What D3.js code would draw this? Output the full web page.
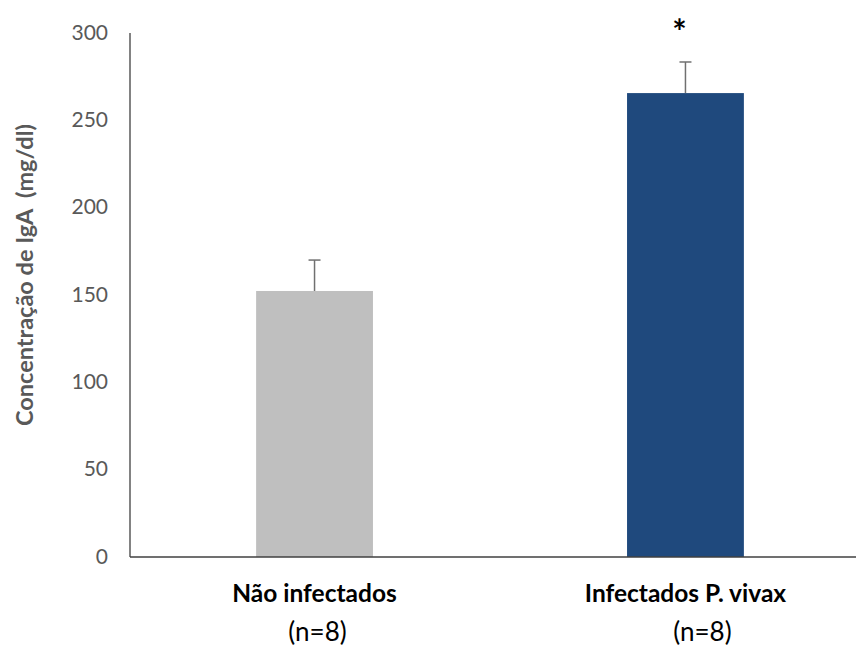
<!DOCTYPE html>
<html>
<head>
<meta charset="utf-8">
<script src="https://cdn.jsdelivr.net/npm/d3@7"></script>
<style>
  html, body { margin: 0; padding: 0; background: #fff; }
  svg text { font-family: Lato, "Open Sans", sans-serif; }
</style>
</head>
<body>
<svg id="chart" width="856" height="648"></svg>
<script>
// IgA concentration by group (mean ± error)
const groups = ["Não infectados", "Infectados P. vivax"];
const groupN = ["(n=8)", "(n=8)"];
const means = [152.3, 265.6];
const errors = [17.7, 17.8];
const barColors = ["#BFBFBF", "#1F497D"];
const significance = ["", "*"];
const yTicks = [0, 50, 100, 150, 200, 250, 300];

const svg = d3.select("#chart");
const margin = { left: 130, top: 33, right: 856, bottom: 557 };

const x = d3.scaleBand()
  .domain(groups)
  .range([130, 870])
  .paddingInner(0.685)
  .paddingOuter(0.34);

const y = d3.scaleLinear().domain([0, 300]).range([margin.bottom, margin.top]);

// Y axis: labels only, plus the vertical rule
const yAxis = d3.axisLeft(y).tickValues(yTicks).tickSize(0).tickPadding(22);
const gy = svg.append("g").attr("transform", `translate(${margin.left},0)`).call(yAxis);
gy.select(".domain").remove();
gy.selectAll("text")
  .attr("fill", "#595959")
  .attr("dy", "0.3em")
  .style("font-size", "21px")
  .style("font-family", "Lato, 'Open Sans', sans-serif");

svg.append("line")
  .attr("x1", margin.left).attr("x2", margin.left)
  .attr("y1", y(300)).attr("y2", y(0))
  .attr("stroke", "#404040").attr("stroke-width", 1.3);

// Bars
svg.selectAll("rect.bar")
  .data(groups)
  .join("rect")
  .attr("class", "bar")
  .attr("x", d => x(d))
  .attr("width", x.bandwidth())
  .attr("y", (d, i) => y(means[i]))
  .attr("height", (d, i) => y(0) - y(means[i]))
  .attr("fill", (d, i) => barColors[i]);

// Upper error bars
const eb = svg.selectAll("g.err").data(groups).join("g").attr("class", "err");
eb.append("line")
  .attr("x1", d => x(d) + x.bandwidth() / 2)
  .attr("x2", d => x(d) + x.bandwidth() / 2)
  .attr("y1", (d, i) => y(means[i]))
  .attr("y2", (d, i) => y(means[i] + errors[i]))
  .attr("stroke", "#707070").attr("stroke-width", 1.5);
eb.append("line")
  .attr("x1", d => x(d) + x.bandwidth() / 2 - 6)
  .attr("x2", d => x(d) + x.bandwidth() / 2 + 6)
  .attr("y1", (d, i) => y(means[i] + errors[i]))
  .attr("y2", (d, i) => y(means[i] + errors[i]))
  .attr("stroke", "#707070").attr("stroke-width", 1.5);

// Significance marker
svg.selectAll("text.sig").data(groups).join("text")
  .attr("class", "sig")
  .attr("x", d => x(d) + x.bandwidth() / 2 - 6)
  .attr("y", 44)
  .attr("text-anchor", "middle")
  .style("font-size", "34px")
  .style("font-weight", "bold")
  .attr("fill", "#000")
  .text((d, i) => significance[i]);

// Baseline
svg.append("line")
  .attr("x1", margin.left).attr("x2", 856)
  .attr("y1", y(0)).attr("y2", y(0))
  .attr("stroke", "#404040").attr("stroke-width", 1.3);

// Category labels
svg.selectAll("text.cat").data(groups).join("text")
  .attr("class", "cat")
  .attr("x", d => x(d) + x.bandwidth() / 2)
  .attr("y", 602)
  .attr("text-anchor", "middle")
  .style("font-size", "24.5px")
  .style("font-weight", "bold")
  .attr("fill", "#000")
  .text(d => d);

const nOffsets = [3, 17];
svg.selectAll("text.n").data(groups).join("text")
  .attr("class", "n")
  .attr("x", (d, i) => x(d) + x.bandwidth() / 2 + nOffsets[i])
  .attr("y", 641)
  .attr("text-anchor", "middle")
  .style("font-size", "26px")
  .attr("fill", "#000")
  .text((d, i) => groupN[i]);

// Y axis title
svg.append("text")
  .attr("transform", `translate(33, 275) rotate(-90)`)
  .attr("text-anchor", "middle")
  .style("font-size", "23.5px")
  .style("font-weight", "bold")
  .attr("fill", "#595959")
  .attr("xml:space", "preserve")
  .text("Concentração de IgA  (mg/dl)");
</script>
</body>
</html>
